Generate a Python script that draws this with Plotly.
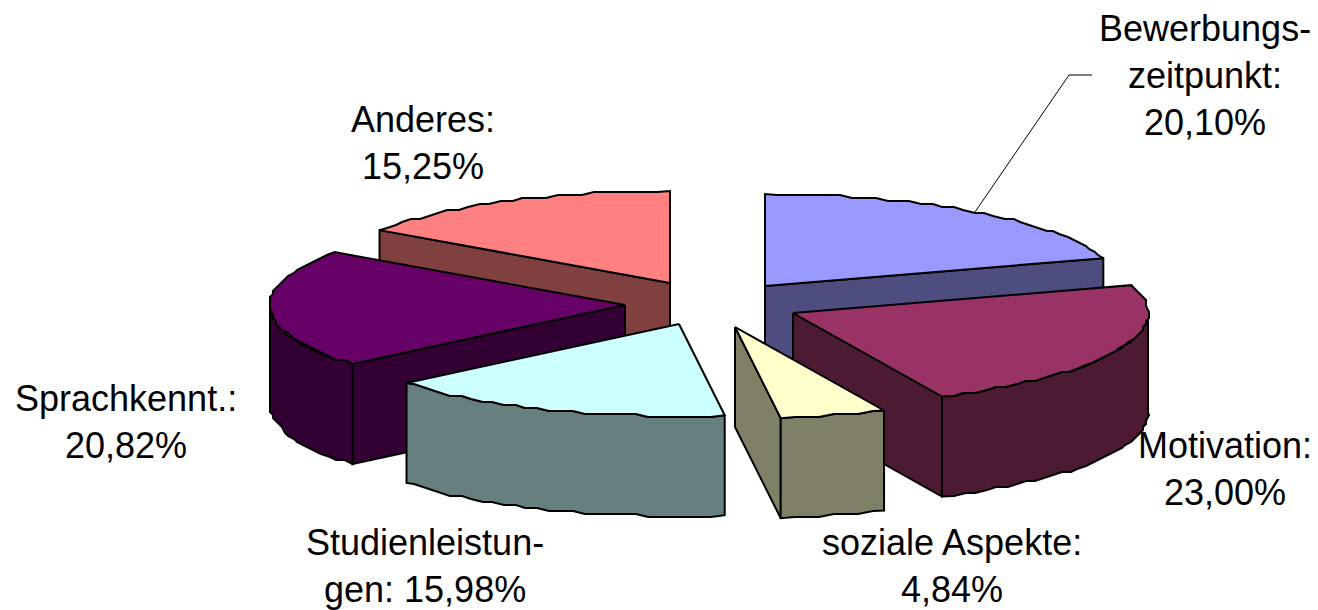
import numpy as np
import plotly.graph_objects as go

slice_names = ["Bewerbungszeitpunkt", "Motivation", "soziale Aspekte", "Studienleistungen", "Sprachkenntnisse", "Anderes"]
shares = [20.10, 23.00, 4.84, 15.98, 20.82, 15.25]
label_lines = [
    ["Bewerbungs-", "zeitpunkt:", "{}"],
    ["Motivation:", "{}"],
    ["soziale Aspekte:", "{}"],
    ["Studienleistun-", "gen: {}"],
    ["Sprachkennt.:", "{}"],
    ["Anderes:", "{}"],
]

top_colors = ["#9999ff", "#993366", "#ffffcc", "#ccffff", "#660066", "#ff8080"]
side_colors = ["#4d4d80", "#4d1a33", "#808066", "#668080", "#330033", "#804040"]

# pie geometry in page pixels, the exploded slice tips and where the labels sit
apex_x = [765, 793, 735, 679, 625, 670]
apex_y = [286, 313, 327, 324, 305, 283]
label_x = [1205, 1225, 952, 425, 126, 423]
label_y = [28, 445, 542, 542, 398, 119]
RX, RY, DEPTH = 355, 92, 100
LINE_GAP = 47
# the page body keeps its 8px margin, so the plot area starts there
PAGE_MARGIN = 8
draw_order = [5, 0, 4, 1, 3, 2]


def arc(cx, cy, start, end):
    # fine steps snapped to a grid give the stepped rim of the old bitmap
    steps = max(2, int((end - start) / 2) + 1)
    t = np.radians(np.linspace(start, end, steps))
    x = cx + RX * np.sin(t)
    y = cy - RY * np.cos(t)
    x[1:-1] = np.round(x[1:-1] / 3) * 3
    y[1:-1] = np.round(y[1:-1] / 3) * 3
    return x, y


def polygon(x, y, color):
    return go.Scatter(
        x=np.append(x, x[0]),
        y=np.append(y, y[0]),
        mode="lines",
        fill="toself",
        fillcolor=color,
        line=dict(color="black", width=2),
        hoverinfo="skip",
        showlegend=False,
    )


def face(cx, cy, angle, color):
    t = np.radians(angle)
    ex, ey = cx + RX * np.sin(t), cy - RY * np.cos(t)
    return polygon(np.array([cx, ex, ex, cx]), np.array([cy, ey, ey + DEPTH, cy + DEPTH]), color)


edges = np.concatenate([[0], np.cumsum(shares)]) / sum(shares) * 360

fig = go.Figure()
for i in draw_order:
    start, end = edges[i], edges[i + 1]
    cx, cy = apex_x[i], apex_y[i]
    if np.sin(np.radians(start)) < 0:
        fig.add_trace(face(cx, cy, start, side_colors[i]))
    if np.sin(np.radians(end)) > 0:
        fig.add_trace(face(cx, cy, end, side_colors[i]))
    # outer wall only shows on the front half of the ellipse
    lo, hi = max(start, 90), min(end, 270)
    if lo < hi:
        wx, wy = arc(cx, cy, lo, hi)
        fig.add_trace(polygon(np.concatenate([wx, wx[::-1]]), np.concatenate([wy, wy[::-1] + DEPTH]), side_colors[i]))
    ax, ay = arc(cx, cy, start, end)
    fig.add_trace(polygon(np.concatenate([[cx], ax]), np.concatenate([[cy], ay]), top_colors[i]))

# leader line of the first label
fig.add_trace(
    go.Scatter(
        x=[975, 1069, 1092],
        y=[212, 75, 75],
        mode="lines",
        line=dict(color="black", width=1),
        hoverinfo="skip",
        showlegend=False,
    )
)

for i, lines in enumerate(label_lines):
    value = f"{shares[i]:.2f}".replace(".", ",") + "%"
    for n, line in enumerate(lines):
        fig.add_annotation(
            x=label_x[i],
            y=label_y[i] + n * LINE_GAP,
            text=line.format(value),
            showarrow=False,
            xanchor="center",
            yanchor="middle",
            font=dict(family="Liberation Sans", size=36, color="black"),
        )

fig.update_layout(
    width=1318 - PAGE_MARGIN,
    height=610 - PAGE_MARGIN,
    margin=dict(l=0, r=0, t=0, b=0),
    paper_bgcolor="white",
    plot_bgcolor="white",
    xaxis=dict(range=[PAGE_MARGIN, 1318], visible=False, fixedrange=True),
    yaxis=dict(range=[610, PAGE_MARGIN], visible=False, fixedrange=True),
)
fig.write_html("out.html")
